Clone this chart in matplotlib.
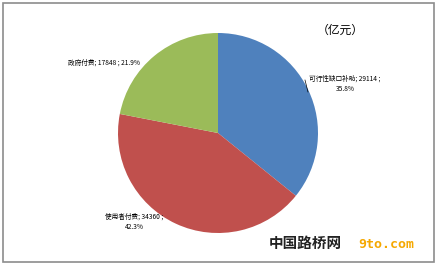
import matplotlib.pyplot as plt
from matplotlib.patches import Rectangle

plt.rcParams["font.family"] = ["Noto Sans CJK SC", "DejaVu Sans"]

categories = ["可行性缺口补助", "使用者付费", "政府付费"]
values = [29114, 34360, 17848]
percents = ["35.8%", "42.3%", "21.9%"]
colors = ["#4F81BD", "#C0504D", "#9BBB59"]
unit = "（亿元）"

W, H = 438, 266
fig = plt.figure(figsize=(W / 100, H / 100), dpi=100)
fig.patch.set_facecolor("white")


def px(x, y):
    """pixel position (from top-left) -> figure fraction"""
    return x / W, 1 - y / H


# outer frame
fig.patches.append(Rectangle(px(3, 262), 431 / W, 259 / H, transform=fig.transFigure,
                             fill=False, edgecolor="#8c8c8c", lw=1.2))

ax = fig.add_axes([118 / W, (H - 233) / H, 200 / W, 200 / H])
ax.pie(values, colors=colors, startangle=90, counterclock=False,
       wedgeprops=dict(linewidth=0))
ax.set_aspect("auto")
ax.set_xlim(-1, 1)
ax.set_ylim(-1, 1)
ax.axis("off")

fs = 4.8
# data labels
fig.text(*px(345, 84), f"{categories[0]}; {values[0]} ;\n{percents[0]}",
         fontsize=fs, ha="center", va="center", linespacing=1.3)
fig.text(*px(104, 63), f"{categories[2]}; {values[2]} ; {percents[2]}",
         fontsize=fs, ha="center", va="center")
fig.text(*px(134, 222), f"{categories[1]}; {values[1]} ;\n{percents[1]}",
         fontsize=fs, ha="center", va="center", linespacing=1.3)
# leader line for the blue slice
fig.add_artist(plt.Line2D([305 / W, 308 / W], [1 - 80 / H, 1 - 92 / H],
                          transform=fig.transFigure, color="black", lw=0.5))

fig.text(*px(340, 30), unit, fontsize=8.5, ha="center", va="center")

# watermark
fig.text(*px(305, 243), "中国路桥网", fontsize=10.5, fontweight="bold",
         ha="center", va="center", color="#222222")
fig.text(*px(386, 244), "9to.com", fontsize=9.5, fontweight="bold",
         family="DejaVu Sans Mono", ha="center", va="center", color="#F5A800")

fig.savefig("out.png", dpi=100)
